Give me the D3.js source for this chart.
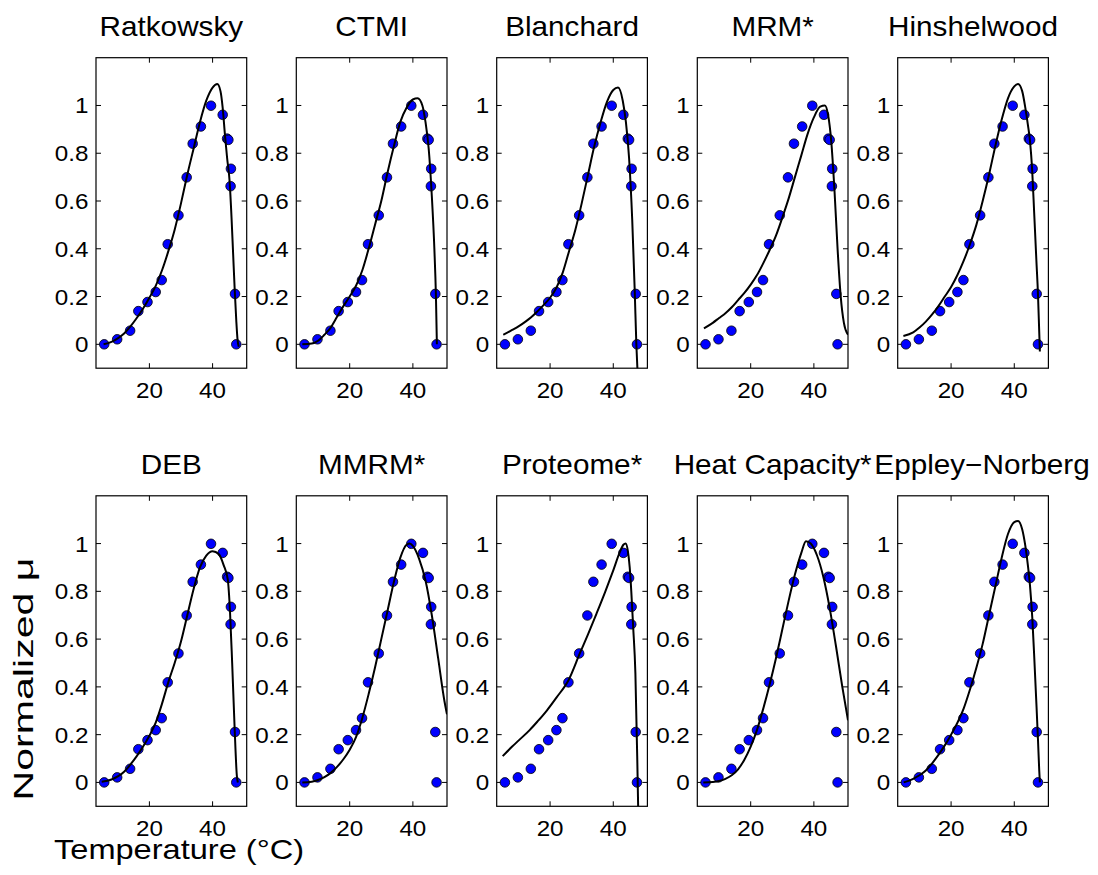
<!DOCTYPE html>
<html>
<head>
<meta charset="utf-8">
<script src="https://cdn.jsdelivr.net/npm/d3@7"></script>
<style>
  html, body { margin: 0; padding: 0; background: #fff; }
  svg { display: block; font-family: "Liberation Sans", Arial, Helvetica, sans-serif; }
</style>
</head>
<body>
<svg id="chart" width="1098" height="875"></svg>
<script>
// measured growth rates (same data in every panel)
const temps  = [5.7, 9.8, 13.9, 16.5, 19.4, 22.0, 23.9, 25.8, 29.2, 31.8, 33.7, 36.3, 39.5, 43.2, 44.6, 45.0, 45.8, 45.7, 47.1, 47.5];
const growth = [0.0, 0.021, 0.057, 0.139, 0.177, 0.219, 0.269, 0.419, 0.540, 0.699, 0.840, 0.912, 0.999, 0.961, 0.861, 0.856, 0.735, 0.662, 0.211, 0.0];

const modelNames = ["Ratkowsky", "CTMI", "Blanchard", "MRM*", "Hinshelwood",
                    "DEB", "MMRM*", "Proteome*", "Heat Capacity*", "Eppley\u2212Norberg"];

// fitted curves as [T, mu]
const ratkowskyFit = [[5.5,0],[8,0.01],[10,0.025],[12,0.045],[14,0.075],[16,0.11],[18,0.15],[20,0.195],[22,0.245],[24,0.31],[26,0.39],[28,0.48],[30,0.59],[32,0.71],[34,0.82],[36,0.93],[38,1.02],[40,1.075],[41.5,1.09],[42.5,1.06],[43.2,0.99],[43.9,0.88],[44.6,0.78],[45.4,0.68],[46,0.53],[46.5,0.38],[47,0.23],[47.5,0.1],[47.9,0.02],[48.3,-0.01]];
const ctmiFit = [[5,0],[8,0.003],[10,0.015],[12,0.04],[14,0.07],[16,0.115],[18,0.16],[20,0.2],[22,0.245],[24,0.31],[26,0.4],[28,0.5],[30,0.6],[32,0.72],[34,0.83],[36,0.93],[38,0.99],[40,1.025],[41.5,1.03],[43,1.0],[44,0.93],[45,0.82],[46,0.62],[46.8,0.4],[47.3,0.2],[47.6,0]];
const blanchardFit = [[5.2,0.04],[8,0.06],[10,0.075],[12,0.093],[14,0.113],[16,0.138],[18,0.165],[20,0.195],[22,0.237],[24,0.3],[26,0.39],[28,0.48],[30,0.59],[32,0.71],[34,0.83],[36,0.93],[38,1.015],[40,1.065],[41.5,1.075],[43,1.02],[44,0.93],[45,0.78],[46,0.52],[46.8,0.22],[47.3,0],[47.7,-0.12]];
const mrmFit = [[5.2,0.067],[8,0.09],[10,0.11],[12,0.13],[14,0.155],[16,0.185],[18,0.215],[20,0.25],[22,0.29],[24,0.34],[26,0.395],[28,0.455],[30,0.53],[32,0.61],[34,0.7],[36,0.79],[38,0.88],[40,0.95],[42,0.995],[43.5,1.0],[44.5,0.96],[45.5,0.85],[46.5,0.65],[47.5,0.4],[48.5,0.2],[49.5,0.09],[50.8,0.04]];
const hinshelwoodFit = [[4.9,0.035],[8,0.05],[10,0.07],[12,0.095],[14,0.125],[16,0.16],[18,0.2],[20,0.24],[22,0.29],[24,0.35],[26,0.42],[28,0.5],[30,0.6],[32,0.71],[34,0.83],[36,0.94],[38,1.03],[40,1.08],[41.2,1.09],[42.5,1.06],[43.5,0.99],[44.3,0.92],[44.9,0.86],[45.7,0.72],[46.3,0.55],[47,0.35],[47.5,0.21],[47.9,0.05],[48.1,-0.03]];
const debFit = [[4.9,0.003],[8,0.012],[10,0.025],[12,0.045],[14,0.075],[16,0.11],[18,0.15],[20,0.195],[22,0.25],[24,0.33],[26,0.42],[28,0.5],[30,0.59],[32,0.7],[34,0.81],[36,0.9],[38,0.95],[40,0.968],[42,0.955],[43.5,0.91],[44.8,0.85],[45.5,0.72],[46.2,0.5],[47,0.22],[47.7,0.025],[48,0]];
const mmrmFit = [[5,0],[8,0.003],[10,0.01],[12,0.022],[14,0.04],[16,0.065],[18,0.097],[20,0.137],[22,0.19],[24,0.27],[26,0.37],[28,0.48],[30,0.6],[32,0.72],[34,0.84],[36,0.94],[38,0.995],[39,1.0],[40,0.99],[42,0.935],[44,0.845],[46,0.7],[48,0.52],[50,0.34],[50.8,0.285]];
const proteomeFit = [[5,0.11],[8,0.15],[10,0.175],[13.6,0.22],[16,0.255],[18.9,0.3],[22,0.355],[25.9,0.43],[29.4,0.54],[32,0.62],[34.7,0.707],[37.5,0.8],[40,0.888],[42.1,0.965],[43.2,0.995],[43.9,1.0],[44.6,0.97],[45.2,0.9],[45.7,0.8],[46.3,0.65],[47,0.456],[47.6,0.093],[47.9,-0.12]];
const heatCapacityFit = [[5,0],[8,0.002],[10,0.006],[12,0.015],[14,0.03],[16,0.055],[18,0.095],[20,0.15],[22,0.22],[24,0.31],[26,0.41],[28,0.52],[30,0.64],[32,0.76],[34,0.87],[36,0.96],[37.5,1.01],[39,1.0],[41,0.95],[43,0.86],[45,0.73],[47,0.57],[49,0.4],[50.8,0.26]];
const eppleyFit = [[5,0],[8,0.015],[10,0.03],[12,0.05],[14,0.08],[16,0.115],[18,0.155],[20,0.2],[22,0.25],[24,0.31],[26,0.39],[28,0.48],[30,0.58],[32,0.7],[34,0.82],[36,0.94],[38,1.04],[40,1.09],[41.2,1.095],[42.5,1.06],[43.5,0.99],[44.3,0.91],[45,0.82],[45.7,0.69],[46.3,0.53],[47,0.33],[47.5,0.18],[47.9,0.05],[48.1,0]];

const fits = [ratkowskyFit, ctmiFit, blanchardFit, mrmFit, hinshelwoodFit,
              debFit, mmrmFit, proteomeFit, heatCapacityFit, eppleyFit];

const xTicks = [20, 40];
const yTicks = [0, 0.2, 0.4, 0.6, 0.8, 1];

const svg = d3.select("#chart");
const panelW = 150.7, panelH = 310.5;
const lefts = [96, 296.3, 496.7, 697.3, 897.7];
const tops = [57.7, 495.8];
const stretch = 1.1; // the original lettering is a bit wider than Liberation Sans

const x = d3.scaleLinear().domain([3.1, 50.8]).range([0, panelW]);
const y = d3.scaleLinear().domain([-0.1, 1.2]).range([panelH, 0]);
const line = d3.line().x(d => x(d[0])).y(d => y(d[1])).curve(d3.curveMonotoneX);

const points = temps.map((t, i) => [t, growth[i]]);

function label(g, px, py, str, size, anchor) {
  return g.append("text")
    .attr("transform", `translate(${px},${py}) scale(${stretch},1)`)
    .attr("text-anchor", anchor).attr("font-size", size).text(str);
}

svg.append("defs").append("clipPath").attr("id", "clip")
  .append("rect").attr("width", panelW).attr("height", panelH);

modelNames.forEach((name, i) => {
  const g = svg.append("g")
    .attr("transform", `translate(${lefts[i % 5]},${tops[Math.floor(i / 5)]})`);

  // last title sits a little to the right so it clears its neighbour
  const titleShift = i === 9 ? 9 : 0;
  label(g, panelW / 2 + titleShift, -21.5, name, 27, "middle");

  // ticks, inward on all four sides
  const tk = 5;
  yTicks.forEach(v => {
    g.append("line").attr("x1", 0).attr("x2", tk).attr("y1", y(v)).attr("y2", y(v)).attr("stroke", "#000");
    g.append("line").attr("x1", panelW).attr("x2", panelW - tk).attr("y1", y(v)).attr("y2", y(v)).attr("stroke", "#000");
    label(g, -7.5, y(v) + 8, d3.format("")(v), 22, "end");
  });
  xTicks.forEach(v => {
    g.append("line").attr("x1", x(v)).attr("x2", x(v)).attr("y1", panelH).attr("y2", panelH - tk).attr("stroke", "#000");
    g.append("line").attr("x1", x(v)).attr("x2", x(v)).attr("y1", 0).attr("y2", tk).attr("stroke", "#000");
    label(g, x(v), panelH + 30, v, 22, "middle");
  });

  // data points
  g.append("g").selectAll("circle").data(points).join("circle")
    .attr("cx", d => x(d[0])).attr("cy", d => y(d[1])).attr("r", 4.8)
    .attr("fill", "#0000ff").attr("stroke", "#000").attr("stroke-width", 0.8);

  // fitted curve
  g.append("path").datum(fits[i])
    .attr("clip-path", "url(#clip)")
    .attr("d", line).attr("fill", "none").attr("stroke", "#000").attr("stroke-width", 2);

  // box
  g.append("rect").attr("width", panelW).attr("height", panelH)
    .attr("fill", "none").attr("stroke", "#000").attr("stroke-width", 1.2);
});

svg.append("text").attr("transform", "translate(33,679) rotate(-90)")
  .attr("text-anchor", "middle").attr("font-size", 28)
  .attr("textLength", 243).attr("lengthAdjust", "spacingAndGlyphs")
  .text("Normalized \u03bc");
svg.append("text").attr("x", 179).attr("y", 859)
  .attr("text-anchor", "middle").attr("font-size", 28)
  .attr("textLength", 250).attr("lengthAdjust", "spacingAndGlyphs")
  .text("Temperature (\u00b0C)");
</script>
</body>
</html>
